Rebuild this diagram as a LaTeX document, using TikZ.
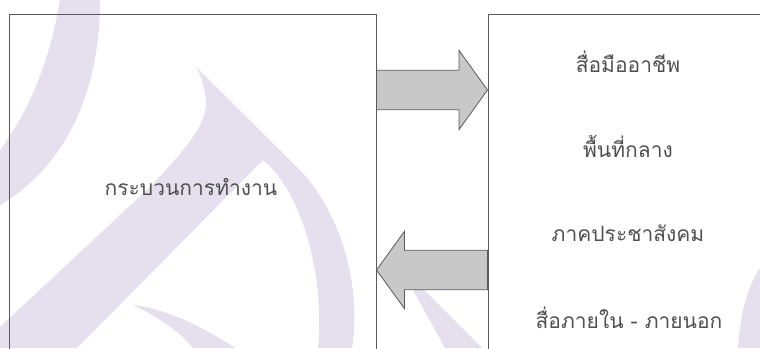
\documentclass[tikz,border=0pt]{standalone}
\usepackage{fontspec}
\newfontfamily\thaifont[Script=Thai]{Loma}
\usetikzlibrary{calc}
\definecolor{wm}{RGB}{229,223,238}
\definecolor{lineg}{RGB}{90,90,90}
\definecolor{arrowfill}{RGB}{200,200,200}
\definecolor{txt}{RGB}{80,80,80}
\tikzset{
  box/.style={draw=lineg, line width=1pt, inner sep=0pt},
  lbl/.style={font=\thaifont\fontsize{21}{24}\selectfont, text=txt, inner sep=0pt},
  blockarrow/.style={draw=lineg, fill=arrowfill, line width=0.8pt, line join=miter},
  wmark/.style={fill=wm, draw=none}
}
\begin{document}
\begin{tikzpicture}[x=1pt,y=-1pt]
\useasboundingbox (0,0) rectangle (760,348);
\clip (0,0) rectangle (760,348);
% watermark shapes
\fill[wmark] (60,0) .. controls (50,60) and (30,110) .. (0,150) -- (0,205)
  .. controls (60,170) and (100,100) .. (100,0) -- cycle;
\fill[wmark] (196,67) -- (300,170) .. controls (340,212) and (362,285) .. (352,348)
  -- (318,348) .. controls (325,270) and (300,190) .. (263,160) -- (77,348)
  -- (0,348) -- (0,327) -- (150,187) .. controls (185,150) and (212,120) .. (205,95)
  .. controls (203,82) and (200,74) .. (196,67) -- cycle;
\fill[wmark] (133,305) .. controls (160,318) and (180,332) .. (193,348) -- (235,348)
  .. controls (205,328) and (165,308) .. (133,305) -- cycle;
\fill[wmark] (413,290) .. controls (418,288) and (421,288) .. (424,290)
  -- (482,348) -- (445,348) -- cycle;
\fill[wmark] (760,268) .. controls (748,285) and (740,315) .. (738,348) -- (760,348) -- cycle;
% boxes
\node[box, minimum width=367pt, minimum height=352pt] (L) at (192.5,190) {};
\node[lbl] (lt) at (191,187) {กระบวนการทำงาน};
\node[box, minimum width=280pt, minimum height=352pt] (R) at (628,190) {};
% right texts
\node[lbl] (r1) at (628,62) {สื่อมืออาชีพ};
\node[lbl] (r2) at (628,146) {พื้นที่กลาง};
\node[lbl] (r3) at (628,233) {ภาคประชาสังคม};
\node[lbl] (r4) at (629,318) {สื่อภายใน - ภายนอก};
% block arrows
\coordinate (u1) at (L.east |- 0,90);
\coordinate (u2) at (R.west |- 0,90);
\draw[blockarrow] ($(u1)+(0,-19.7)$) -- ($(u2)+(-28.5,-19.7)$) -- ($(u2)+(-28.5,-39.6)$)
  -- (u2) -- ($(u2)+(-28.5,39.6)$) -- ($(u2)+(-28.5,19.7)$) -- ($(u1)+(0,19.7)$) -- cycle;
\coordinate (l1) at (R.west |- 0,270);
\coordinate (l2) at (L.east |- 0,270);
\draw[blockarrow] ($(l1)+(0,-19.7)$) -- ($(l2)+(28,-19.7)$) -- ($(l2)+(28,-38.7)$)
  -- (l2) -- ($(l2)+(28,38.7)$) -- ($(l2)+(28,19.7)$) -- ($(l1)+(0,19.7)$) -- cycle;
\end{tikzpicture}
\end{document}
